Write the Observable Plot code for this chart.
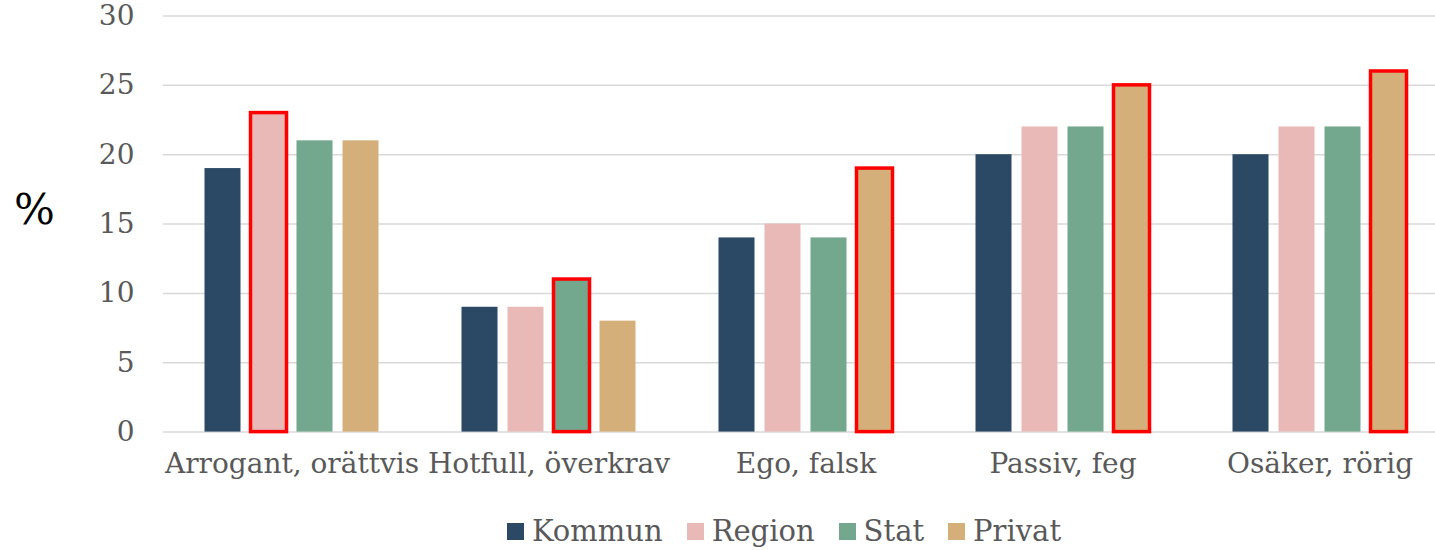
<!DOCTYPE html>
<html><head><meta charset="utf-8">
<script src="https://cdn.jsdelivr.net/npm/d3@7"></script>
<script src="https://cdn.jsdelivr.net/npm/@observablehq/plot@0.6"></script>
<style>
html,body{margin:0;padding:0;background:#fff;overflow:hidden;width:1435px;height:550px}
#chart svg{display:block}
#legend{display:flex;justify-content:center;align-items:center;height:36px;margin-top:13px;padding-left:133px;
  font-family:"DejaVu Serif",serif;font-size:29px;color:#595959}
#legend .item{display:flex;align-items:center;margin:0 12px}
#legend .sw{width:17px;height:17px;margin-right:8px}
</style></head><body>
<div id="chart"></div>
<div id="legend"></div>
<script>
const categories = ["Arrogant, orättvis", "Hotfull, överkrav", "Ego, falsk", "Passiv, feg", "Osäker, rörig"];
const series = ["Kommun", "Region", "Stat", "Privat"];
const kommun = [19, 9, 14, 20, 20];
const region = [23, 9, 15, 22, 22];
const stat = [21, 11, 14, 22, 22];
const privat = [21, 8, 19, 25, 26];
const highlighted = ["Region", "Stat", "Privat", "Privat", "Privat"];
const colors = ["#2B4865", "#E9B9B7", "#73A78E", "#D5AF7A"];
const yTicks = [0, 5, 10, 15, 20, 25, 30];

const valuesBySeries = [kommun, region, stat, privat];
const data = categories.flatMap((c, i) => series.map((s, j) => ({
  category: c, series: s, value: valuesBySeries[j][i], hl: highlighted[i] === s
})));

const plot = Plot.plot({
  width: 1435, height: 500,
  marginLeft: 162.5, marginRight: -14, marginTop: 15.5, marginBottom: 68.4,
  style: {fontFamily: "DejaVu Serif, serif", fontSize: "28px", color: "#595959", background: "#fff", overflow: "visible"},
  fx: {domain: categories, padding: 0, label: null, tickSize: 0, tickPadding: 21},
  x: {domain: series, paddingInner: 0.21, paddingOuter: 0.86, axis: null},
  y: {domain: [0, 30], ticks: yTicks, label: null, tickSize: 0, tickPadding: 29},
  color: {domain: series, range: colors},
  marks: [
    Plot.gridY(yTicks, {stroke: "#d9d9d9", strokeOpacity: 1, strokeWidth: 1.5}),
    Plot.barY(data, {fx: "category", x: "series", y: "value", fill: "series"}),
    Plot.barY(data.filter(d => d.hl), {fx: "category", x: "series", y: "value", fill: "series", stroke: "#FF0000", strokeWidth: 3.5}),
    Plot.text(["%"], {fx: () => categories[0], text: d => d, frameAnchor: "left", dx: -129, dy: -14,
      fontSize: 43, fill: "#000", textAnchor: "middle", fontFamily: "DejaVu Serif, serif"})
  ]
});
document.getElementById("chart").appendChild(plot);

const legend = document.getElementById("legend");
series.forEach((s, i) => {
  const item = document.createElement("div");
  item.className = "item";
  const sw = document.createElement("span");
  sw.className = "sw";
  sw.style.background = colors[i];
  const t = document.createElement("span");
  t.textContent = s;
  item.appendChild(sw); item.appendChild(t);
  legend.appendChild(item);
});
</script>
</body></html>
